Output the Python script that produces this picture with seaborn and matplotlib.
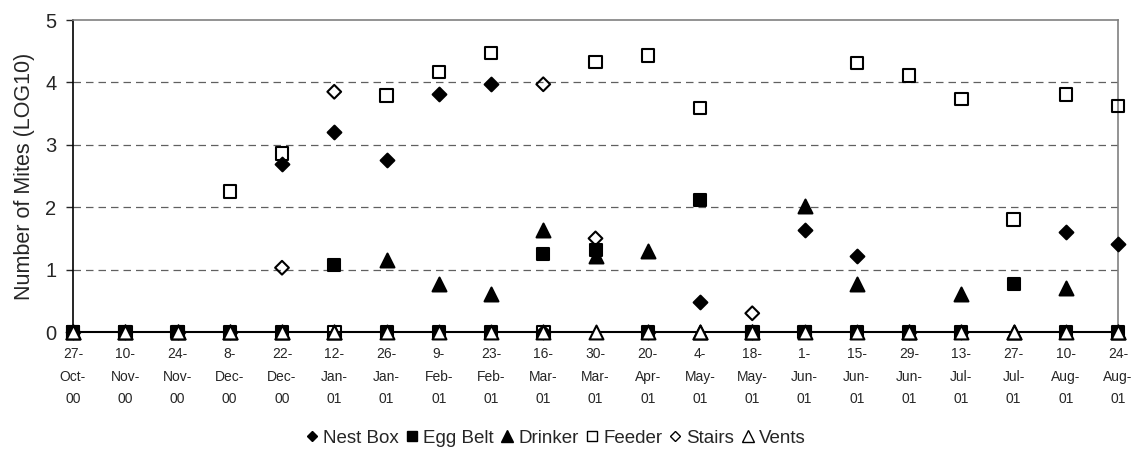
import matplotlib
matplotlib.use("Agg")
import matplotlib.pyplot as plt
import seaborn as sns
import pandas as pd
import numpy as np
from matplotlib.lines import Line2D

nan = np.nan
dates = ["27-\nOct-\n00", "10-\nNov-\n00", "24-\nNov-\n00", "8-\nDec-\n00", "22-\nDec-\n00",
         "12-\nJan-\n01", "26-\nJan-\n01", "9-\nFeb-\n01", "23-\nFeb-\n01", "16-\nMar-\n01",
         "30-\nMar-\n01", "20-\nApr-\n01", "4-\nMay-\n01", "18-\nMay-\n01", "1-\nJun-\n01",
         "15-\nJun-\n01", "29-\nJun-\n01", "13-\nJul-\n01", "27-\nJul-\n01", "10-\nAug-\n01",
         "24-\nAug-\n01"]

nest_box = [0, 0, 0, 0, 2.69, 3.21, 2.76, 3.81, 3.97, 0, nan, 0, 0.48, 0, 1.63, 1.22, 0, 0, nan, 1.60, 1.41]
egg_belt = [0, 0, 0, 0, 0, 1.08, 0, 0, 0, 1.25, 1.31, 0, 2.12, 0, 0, 0, 0, 0, 0.77, 0, 0]
drinker = [0, 0, 0, 0, 0, 0, 1.15, 0.77, 0.61, 1.63, 1.21, 1.30, 0, 0, 2.02, 0.77, 0, 0.61, 0, 0.70, 0]
feeder = [0, 0, 0, 2.25, 2.86, 0, 3.79, 4.17, 4.47, 0, 4.33, 4.43, 3.59, 0, 0, 4.31, 4.11, 3.73, 1.80, 3.81, 3.62]
stairs = [nan, nan, nan, nan, 1.03, 3.85, nan, nan, nan, 3.97, 1.50, nan, nan, 0.30, nan, nan, nan, nan, nan, nan, nan]
vents = [0] * 21

series = [
    ("Nest Box", nest_box, "D", "black", 7),
    ("Egg Belt", egg_belt, "s", "black", 9),
    ("Drinker", drinker, "^", "black", 10),
    ("Feeder", feeder, "s", "none", 9),
    ("Stairs", stairs, "D", "none", 7),
    ("Vents", vents, "^", "white", 10),
]

sns.set_style("white")
plt.rcParams['font.family'] = ['Liberation Sans', 'DejaVu Sans']

fig = plt.figure(figsize=(11.36, 4.66), dpi=100)
ax = fig.add_axes([73 / 1136, 1 - 332 / 466, (1118 - 73) / 1136, (332 - 20) / 466])

pos = list(range(len(dates)))
for i, (name, vals, mk, fc, ms) in enumerate(series):
    df = pd.DataFrame({"x": pos, "y": vals}).dropna()
    sns.scatterplot(data=df, x="x", y="y", ax=ax, marker=mk, s=ms ** 2,
                    facecolor=fc, edgecolor="black", linewidth=1.5, zorder=5 + i,
                    clip_on=False, legend=False)

ax.set_xlim(0, 20)
ax.set_ylim(0, 5)
ax.set_yticks(range(6))
ax.set_yticklabels([str(v) for v in range(6)], fontsize=14.5)
ax.set_xticks(pos)
ax.set_xticklabels(dates, fontsize=10, linespacing=1.75)
ax.tick_params(axis="x", length=0, pad=11)
ax.tick_params(axis="y", length=5, width=1, direction="out", left=True, pad=7)
for yv in [1, 2, 3, 4]:
    ax.axhline(yv, color="#606060", linestyle=(0, (6, 4)), linewidth=0.9, zorder=1)
ax.set_xlabel("")
ax.set_ylabel("Number of Mites (LOG10)", fontsize=15.5, labelpad=7)

for side in ["top", "right"]:
    ax.spines[side].set_color("#808080")
    ax.spines[side].set_linewidth(1.2)
ax.spines["left"].set_color("black")
ax.spines["left"].set_linewidth(1.2)
ax.spines["bottom"].set_color("black")
ax.spines["bottom"].set_linewidth(1.5)
ax.spines["bottom"].set_zorder(3)

handles = [Line2D([], [], linestyle="none", marker=mk,
                  markerfacecolor=("white" if fc == "none" else fc),
                  markeredgecolor="black", markeredgewidth=1.0, markersize=ms * 0.8)
           for (name, vals, mk, fc, ms) in series]
labels = [s[0] for s in series]
fig.legend(handles, labels, loc="center", bbox_to_anchor=(0.489, 0.06), ncol=6,
           frameon=False, fontsize=13.5, handlelength=0.7, handletextpad=0.25,
           columnspacing=0.35)

fig.savefig("out.png", dpi=100)
